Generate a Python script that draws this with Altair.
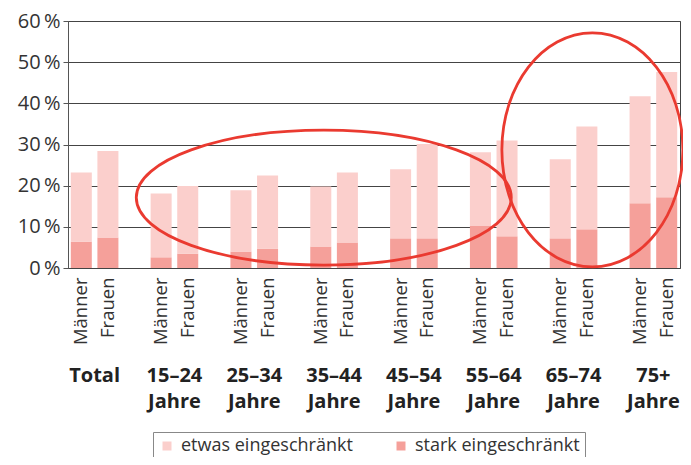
import altair as alt
import pandas as pd

# ---- data ----
groups = ["Total", "15–24", "25–34", "35–44", "45–54", "55–64", "65–74", "75+"]
group_labels = ["Total", "15–24\nJahre", "25–34\nJahre", "35–44\nJahre",
                "45–54\nJahre", "55–64\nJahre", "65–74\nJahre", "75+\nJahre"]
levels = ["etwas eingeschränkt", "stark eingeschränkt"]

stark_m = [6.4, 2.6, 4.0, 5.2, 7.2, 10.3, 7.2, 15.7]
stark_f = [7.4, 3.5, 4.7, 6.2, 7.2, 7.7, 9.4, 17.2]
etwas_m = [16.8, 15.5, 14.9, 14.6, 16.8, 17.8, 19.2, 26.0]
etwas_f = [21.0, 16.4, 17.8, 17.0, 22.9, 23.3, 25.0, 30.4]

y_ticks = [0, 10, 20, 30, 40, 50, 60]

# annotation ellipses (red hand-drawn circles)
ell_keys = ["35–44|M", "65–74|F"]
ell_y = [17.1, 28.7]

# ---- build tables ----
domain = []
for i, g in enumerate(groups):
    domain += [f"{g}|M", f"{g}|F"]
    if i < len(groups) - 1:
        domain.append(f"{g}|gap")

rows = []
for i, g in enumerate(groups):
    for s, st, et in (("M", stark_m[i], etwas_m[i]), ("F", stark_f[i], etwas_f[i])):
        rows.append({"key": f"{g}|{s}", "level": levels[1], "value": st, "ord": 0})
        rows.append({"key": f"{g}|{s}", "level": levels[0], "value": et, "ord": 1})
df = pd.DataFrame(rows)

lab_df = pd.DataFrame({"key": [f"{g}|M" for g in groups], "label": group_labels})

FONT = "Open Sans"
LIGHT = "#fbcfcc"
DARK = "#f5a09a"
RED = "#ea3a30"

xscale = alt.Scale(domain=domain, paddingInner=0.21, paddingOuter=0.105)
yscale = alt.Scale(domain=[0, 60], nice=False)

label_expr = ("indexof(datum.value, '|M') >= 0 ? 'Männer' : "
              "(indexof(datum.value, '|F') >= 0 ? 'Frauen' : '')")

xaxis = alt.Axis(title=None, ticks=False, domain=False, grid=False,
                 labelAngle=270, labelAlign="right", labelBaseline="middle",
                 labelPadding=9, labelFontSize=18.5, labelFont=FONT,
                 labelColor="#333", labelOverlap=False, labelExpr=label_expr)
yaxis = alt.Axis(title=None, values=y_ticks, grid=True, gridColor="#444",
                 gridWidth=1, domain=True, domainColor="#555", ticks=True,
                 tickSize=5, tickColor="#555", labelPadding=3,
                 labelFontSize=20, labelFont=FONT, labelColor="#333",
                 labelExpr="datum.value + '\u2009%'")

bars = alt.Chart(df).mark_bar().encode(
    x=alt.X("key:N", scale=xscale, axis=xaxis),
    y=alt.Y("value:Q", stack="zero", scale=yscale, axis=yaxis),
    color=alt.Color("level:N", scale=alt.Scale(domain=levels, range=[LIGHT, DARK]),
                    legend=alt.Legend(orient="none", legendX=85, legendY=411,
                                      direction="horizontal", title=None,
                                      symbolType="square", symbolSize=81,
                                      symbolStrokeWidth=0, symbolOffset=0,
                                      labelFontSize=18, labelFont=FONT,
                                      labelColor="#333", labelOffset=5,
                                      columnPadding=39, padding=5,
                                      strokeColor="#888", labelLimit=400)),
    order=alt.Order("ord:Q"),
)

labels = alt.Chart(lab_df).mark_text(
    font=FONT, fontWeight="bold", fontSize=20, align="center", baseline="alphabetic",
    lineBreak="\n", lineHeight=25.5, xOffset=13.3, color="#222",
).encode(
    x=alt.X("key:N", scale=xscale, axis=xaxis),
    y=alt.value(361),
    text="label:N",
)


def ellipse_path(r):
    k = 0.5523
    return (f"M-1,0 C-1,{-k*r:.4f} {-k:.4f},{-r:.4f} 0,{-r:.4f} "
            f"C{k:.4f},{-r:.4f} 1,{-k*r:.4f} 1,0 "
            f"C1,{k*r:.4f} {k:.4f},{r:.4f} 0,{r:.4f} "
            f"C{-k:.4f},{r:.4f} -1,{k*r:.4f} -1,0 Z")


ell_geom = [(187.5, 67.5, 3.0), (90.5, 117.0, 5.5)]
ell_layers = []
for i, (rx, ry, dx) in enumerate(ell_geom):
    edf = pd.DataFrame({"key": [ell_keys[i]], "value": [ell_y[i]]})
    ell_layers.append(
        alt.Chart(edf).mark_point(
            shape=ellipse_path(ry / rx), size=(2 * rx) ** 2, filled=False,
            color=RED, strokeWidth=2.8, opacity=1, xOffset=dx,
        ).encode(
            x=alt.X("key:N", scale=xscale, axis=xaxis),
            y=alt.Y("value:Q", scale=yscale, axis=yaxis),
        )
    )

chart = alt.layer(bars, labels, *ell_layers).properties(
    width=612, height=247,
    autosize=alt.AutoSizeParams(type="none"),
    padding={"left": 60, "top": 13, "right": 3, "bottom": 189},
).configure_view(stroke="#444", strokeWidth=1)

chart.save("out.html", embed_options={"renderer": "svg", "actions": False})
